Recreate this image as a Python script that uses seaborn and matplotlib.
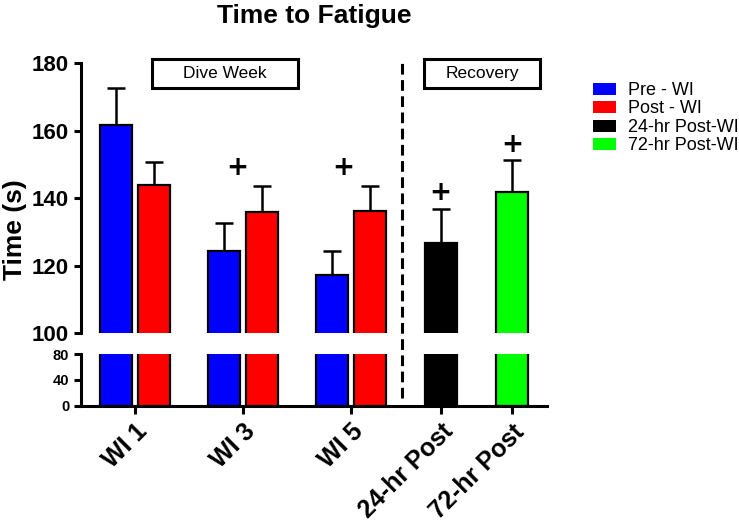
import numpy as np
import pandas as pd
import matplotlib
matplotlib.use("Agg")
import matplotlib.pyplot as plt
import matplotlib.transforms as mtrans
from matplotlib.patches import Rectangle, Patch
from matplotlib.lines import Line2D
import seaborn as sns

# ---------------- data ----------------
groups = ["WI 1", "WI 3", "WI 5", "24-hr Post", "72-hr Post"]
bar_group = ["WI 1", "WI 1", "WI 3", "WI 3", "WI 5", "WI 5", "24-hr Post", "72-hr Post"]
bar_condition = ["Pre - WI", "Post - WI", "Pre - WI", "Post - WI", "Pre - WI", "Post - WI",
                 "24-hr Post-WI", "72-hr Post-WI"]
mean_time = [161.7, 143.9, 124.5, 135.8, 117.3, 136.3, 126.7, 142.0]
sem_time = [11.1, 6.9, 8.2, 7.8, 7.2, 7.4, 10.0, 9.3]
conditions = ["Pre - WI", "Post - WI", "24-hr Post-WI", "72-hr Post-WI"]
colors = ["#0000FF", "#FF0000", "#000000", "#00FF00"]
sig_group = ["WI 3", "WI 5", "24-hr Post", "72-hr Post"]
sig_y = [149.0, 149.0, 141.6, 155.8]
top_ticks = [100, 120, 140, 160, 180]
bot_ticks = [0, 40, 80]

# ---------------- layout ----------------
group_center = {"WI 1": 0.0, "WI 3": 1.0, "WI 5": 2.0, "24-hr Post": 2.83, "72-hr Post": 3.49}
cond_offset = {"Pre - WI": -0.174, "Post - WI": 0.174, "24-hr Post-WI": 0.0, "72-hr Post-WI": 0.0}
sig_offset = {"WI 3": -0.05, "WI 5": -0.07, "24-hr Post": 0.0, "72-hr Post": 0.0}

df = pd.DataFrame({"group": bar_group, "condition": bar_condition,
                   "time": mean_time, "sem": sem_time})
df["pos"] = [group_center[g] + cond_offset[c] for g, c in zip(df.group, df.condition)]

sns.set_style("ticks")
plt.rcParams["font.family"] = ["Liberation Sans", "DejaVu Sans"]
plt.rcParams.update({"text.color": "black", "axes.labelcolor": "black",
                     "xtick.color": "black", "ytick.color": "black",
                     "axes.edgecolor": "black"})

fig = plt.figure(figsize=(7.39, 5.28), dpi=100)
ax_top = fig.add_axes([0.1096, 0.3688, 0.6306, 0.5114])
ax_bot = fig.add_axes([0.1096, 0.2316, 0.6306, 0.0979])

for ax in (ax_top, ax_bot):
    sns.barplot(data=df, x="pos", y="time", hue="condition", hue_order=conditions,
                palette=colors, native_scale=True, dodge=False, width=0.853,
                edgecolor="black", linewidth=1.6, legend=False, errorbar=None,
                saturation=1, ax=ax)
    ax.set_xlim(-0.5, 3.815)
    ax.set_xlabel("")
    ax.set_ylabel("")
    for s in ("top", "right"):
        ax.spines[s].set_visible(False)
    for s in ("left", "bottom"):
        ax.spines[s].set_linewidth(2.2)
        ax.spines[s].set_color("black")
    ax.tick_params(axis="both", width=2.2, length=5, color="black", labelcolor="black")

# error bars (upper only)
ax_top.errorbar(df["pos"], df["time"], yerr=[np.zeros(len(df)), df["sem"]], fmt="none",
                ecolor="black", elinewidth=1.8, capsize=6.5, capthick=1.8, zorder=0.5)

ax_top.set_ylim(100, 180)
ax_top.set_yticks(top_ticks)
ax_top.set_yticklabels([str(t) for t in top_ticks], fontsize=16, fontweight="bold")
ax_top.spines["bottom"].set_visible(False)
ax_top.tick_params(axis="x", bottom=False, labelbottom=False)

ax_bot.set_ylim(0, 80)
ax_bot.set_yticks(bot_ticks)
ax_bot.set_yticklabels([str(t) for t in bot_ticks], fontsize=10.5, fontweight="bold")
ax_bot.set_xticks([group_center[g] for g in groups])
ax_bot.set_xticklabels(groups, fontsize=18, fontweight="bold", rotation=45,
                       ha="right", rotation_mode="anchor")
ax_bot.tick_params(axis="x", length=6, pad=4)

# significance markers
for g, y in zip(sig_group, sig_y):
    ax_top.text(group_center[g] + sig_offset[g], y, "+", ha="center", va="center",
                fontsize=19, fontweight="bold", family=["DejaVu Sans"], color="black")

# dashed divider
blend = mtrans.blended_transform_factory(ax_top.transData, fig.transFigure)
fig.add_artist(Line2D([2.47, 2.47], [0.246, 0.890], transform=blend, color="black",
                      lw=2.2, linestyle=(0, (3.5, 1.8))))

# phase boxes
for (x0, w, label) in [(152, 146, "Dive Week"), (424, 116, "Recovery")]:
    fig.add_artist(Rectangle((x0 / 739, 1 - 88 / 528), w / 739, 29 / 528,
                             transform=fig.transFigure, fill=False, lw=2.2,
                             edgecolor="black"))
    fig.text((x0 + w / 2) / 739, 1 - 73.5 / 528, label, ha="center", va="center",
             fontsize=12.5, color="black")

# legend
handles = [Patch(facecolor=c, edgecolor="none") for c in colors]
leg = fig.legend(handles, conditions, loc="upper left", bbox_to_anchor=(593 / 739, 1 - 82 / 528),
                 frameon=False, fontsize=13, handlelength=1.25, handleheight=0.65,
                 handletextpad=0.7, labelspacing=0.08, borderpad=0, borderaxespad=0)
for t in leg.get_texts():
    t.set_color("black")

# titles
fig.text(314 / 739, 1 - 16 / 528, "Time to Fatigue", ha="center", va="center",
         fontsize=19, fontweight="bold", color="black")
fig.text(15 / 739, 1 - 230 / 528, "Time (s)", ha="center", va="center", rotation=90,
         fontsize=19, fontweight="bold", color="black")

fig.savefig("out.png", dpi=100)
